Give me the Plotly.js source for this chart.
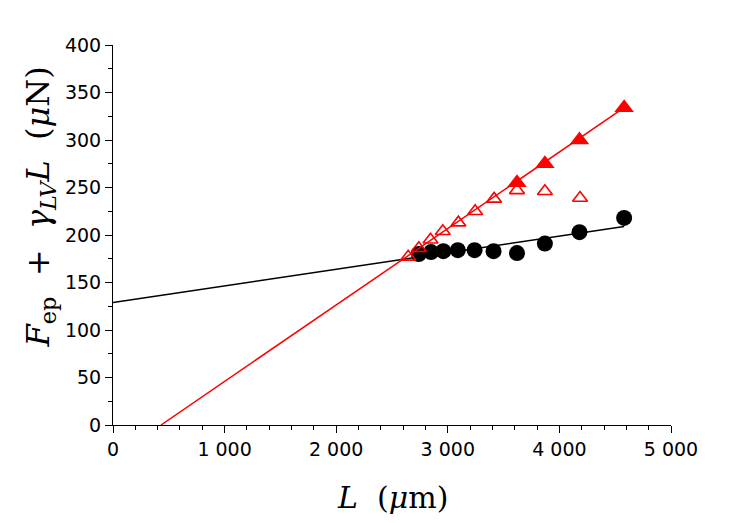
<!DOCTYPE html>
<html>
<head>
<meta charset="utf-8">
<script src="https://cdn.plot.ly/plotly-3.0.1.min.js"></script>
<style>
  html, body { margin: 0; padding: 0; background: #fff; }
  #chart { width: 747px; height: 523px; }
</style>
</head>
<body>
<div id="chart"></div>
<script>
// values
const circleL = [2740, 2850, 2960, 3090, 3240, 3410, 3620, 3870, 4180, 4580];
const circleF = [180, 182, 183, 184, 184, 183, 181, 191, 203, 218];

const openTriL = [2645, 2740, 2845, 2955, 3095, 3245, 3415, 3620, 3870, 4185];
const openTriF = [177, 186, 195, 204, 213, 225, 238, 247, 246, 239];

const fullTriL = [3620, 3870, 4180, 4580];
const fullTriF = [255, 275, 300, 334];

// straight fits, end points
const blackFitL = [0, 4580];
const blackFitF = [129, 209];
const redFitL = [430, 4580];
const redFitF = [0, 334];

const xTickVals = [0, 1000, 2000, 3000, 4000, 5000];
const xTickText = ['0', '1 000', '2 000', '3 000', '4 000', '5 000'];
const yTickVals = [0, 50, 100, 150, 200, 250, 300, 350, 400];

const tickFont = {family: 'DejaVu Sans', size: 19, color: '#000'};
const titleFont = {family: 'DejaVu Serif', size: 30, color: '#000'};
const sp = '\u00A0';

const traces = [
  {
    x: blackFitL, y: blackFitF, mode: 'lines',
    line: {color: '#000', width: 1.5}
  },
  {
    x: circleL, y: circleF, mode: 'markers',
    marker: {symbol: 'circle', size: 16, color: '#000'}
  },
  {
    x: redFitL, y: redFitF, mode: 'lines',
    line: {color: '#ff0000', width: 1.5}
  },
  {
    x: openTriL, y: openTriF, mode: 'markers',
    marker: {symbol: 'triangle-up-open', size: 13, color: '#ff0000', line: {width: 1.6}}
  },
  {
    x: fullTriL, y: fullTriF, mode: 'markers',
    marker: {symbol: 'triangle-up', size: 17, color: '#ff0000'}
  }
];

const axisCommon = {
  showgrid: false,
  zeroline: false,
  showline: true,
  linecolor: '#000',
  linewidth: 1,
  ticks: 'outside',
  ticklen: 7,
  tickwidth: 1,
  tickcolor: '#000',
  tickfont: tickFont
};

const layout = {
  width: 747,
  height: 523,
  margin: {l: 113, r: 76, t: 45, b: 98},
  paper_bgcolor: '#fff',
  plot_bgcolor: '#fff',
  showlegend: false,
  xaxis: Object.assign({}, axisCommon, {
    range: [0, 5000],
    tickvals: xTickVals,
    ticktext: xTickText,
    minor: {ticks: 'outside', dtick: 200, ticklen: 4, tickwidth: 1, tickcolor: '#000'}
  }),
  yaxis: Object.assign({}, axisCommon, {
    range: [0, 400],
    tickvals: yTickVals,
    minor: {ticks: 'outside', dtick: 25, ticklen: 4, tickwidth: 1, tickcolor: '#000'}
  }),
  // axis titles as annotations so they can sit where the reference has them
  annotations: [
    {
      text: '<i>L</i>' + sp + sp + '(<i>μ</i>m)',
      xref: 'paper', yref: 'paper', x: 0.5, y: -0.19,
      xanchor: 'center', yanchor: 'middle', showarrow: false, font: titleFont
    },
    {
      text: '<i>F</i><sub>ep</sub>' + sp + sp + '+' + sp + sp + '<i>γ</i><sub><i>LV</i></sub><i>L</i>' + sp + sp + '(<i>μ</i>N)',
      xref: 'paper', yref: 'paper', x: -0.131, y: 0.575, textangle: -90,
      xanchor: 'center', yanchor: 'middle', showarrow: false,
      font: Object.assign({}, titleFont, {size: 32})
    }
  ]
};

Plotly.newPlot('chart', traces, layout, {displayModeBar: false, staticPlot: true});
</script>
</body>
</html>
